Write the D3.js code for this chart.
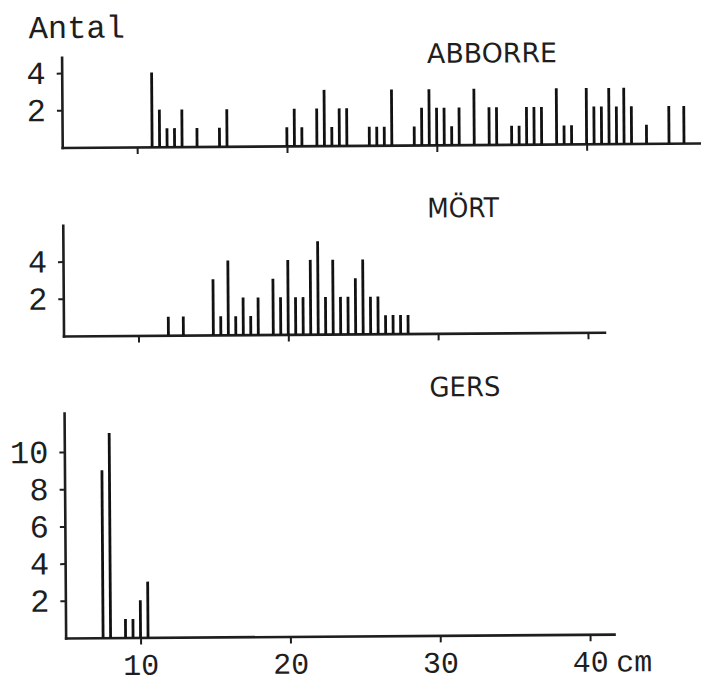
<!DOCTYPE html>
<html>
<head>
<meta charset="utf-8">
<script src="https://cdn.jsdelivr.net/npm/d3@7"></script>
<style>
body { margin: 0; background: #fff; }
</style>
</head>
<body>
<div id="chart"></div>
<script>
// length distributions (0.5 cm classes) for three species
//``````````````````````````````````````//

let abborreLen = [11, 11.5, 12, 12.5, 13, 14, 15.5, 16, 20, 20.5, 21, 22, 22.5, 23, 23.5, 24,
    25.5, 26, 26.5, 27, 28.5, 29, 29.5, 30, 30.5, 31, 31.5, 32.5, 33.5, 34, 35, 35.5, 36, 36.5, 37,
    38, 38.5, 39, 40, 40.5, 41, 41.5, 42, 42.5, 43, 44, 45.5, 46.5]
let abborreN = [4, 2, 1, 1, 2, 1, 1, 2, 1, 2, 1, 2, 3, 1, 2, 2,
    1, 1, 1, 3, 1, 2, 3, 2, 2, 1, 2, 3, 2, 2, 1, 1, 2, 2, 2,
    3, 1, 1, 3, 2, 2, 3, 2, 3, 2, 1, 2, 2]

let mortLen = [12, 13, 15, 15.5, 16, 16.5, 17, 17.5, 18, 19, 19.5, 20, 20.5, 21, 21.5, 22, 22.5,
    23, 23.5, 24, 24.5, 25, 25.5, 26, 26.5, 27, 27.5, 28]
let mortN = [1, 1, 3, 1, 4, 1, 2, 1, 2, 3, 2, 4, 2, 2, 4, 5, 2,
    4, 2, 2, 3, 4, 2, 2, 1, 1, 1, 1]

let gersLen = [7.5, 8, 9, 9.5, 10, 10.5]
let gersN = [9, 11, 1, 1, 2, 3]

let speciesNames = ['ABBORRE', 'MÖRT', 'GERS']
let xTicks = [10, 20, 30, 40]
let xTickLabels = ['10', '20', '30', '40']
let xUnit = 'cm'
let yTitle = 'Antal'
let abborreYTicks = [2, 4]
let mortYTicks = [2, 4]
let gersYTicks = [2, 4, 6, 8, 10]

let monoFont = '"Courier New", "Liberation Mono", monospace'
let sansFont = '"DejaVu Sans", sans-serif'
let ink = '#1e1e1e'
let monoSize = '32px'
let xLabelSize = '30px'

let svg = d3.select('#chart').append('svg')
    .attr('width', 701)
    .attr('height', 684)

// the scan is a little tilted, so the whole drawing is too
let canvas = svg.append('g').attr('transform', 'rotate(-0.4, 350, 342)')

// shared length scale (cm)
let x = d3.scaleLinear().domain([10, 40]).range([138.5, 588])
let unitPx = 18.6

let panels = [
    {len: abborreLen, n: abborreN, yTicks: abborreYTicks, base: 145.5, yTop: 4.85, xEnd: 47.6, nameX: 429, nameY: 63.5, nameW: 130},
    {len: mortLen, n: mortN, yTicks: mortYTicks, base: 334, yTop: 5.95, xEnd: 41.1, nameX: 428, nameY: 218, nameW: 72},
    {len: gersLen, n: gersN, yTicks: gersYTicks, base: 636, yTop: 12.1, xEnd: 41.6, nameX: 429, nameY: 397, nameW: 71, labels: true}
]

let styleAxis = (sel, size) => {
    sel.attr('font-family', null).attr('font-size', null)
    sel.select('.domain')
        .attr('stroke', ink)
        .attr('stroke-width', 2.6)
        .attr('stroke-linecap', 'square')
    sel.selectAll('.tick line')
        .attr('stroke', ink)
        .attr('stroke-width', 2)
    sel.selectAll('.tick text')
        .attr('fill', ink)
        .style('font-family', monoFont)
        .style('font-size', size)
}

let drawPanel = (p, k) => {
    let xs = x.copy().domain([5, p.xEnd]).range([x(5), x(p.xEnd)])
    let y = d3.scaleLinear().domain([0, p.yTop]).range([p.base, p.base - p.yTop * unitPx])
    let panel = canvas.append('g')

    // species name
    panel.append('text')
        .attr('x', p.nameX)
        .attr('y', p.nameY)
        .attr('textLength', p.nameW)
        .attr('lengthAdjust', 'spacingAndGlyphs')
        .attr('fill', ink)
        .style('font-family', sansFont)
        .style('font-size', '27px')
        .text(speciesNames[k])

    // x axis, ticks point down
    let xAxis = d3.axisBottom(xs)
        .tickValues(xTicks)
        .tickSize(7)
        .tickSizeOuter(0)
        .tickPadding(9)
        .tickFormat((d, i) => p.labels ? xTickLabels[i] : '')
    panel.append('g')
        .attr('transform', `translate(0,${p.base})`)
        .call(xAxis)
        .call(styleAxis, xLabelSize)

    // y axis, small ticks to the left
    let yAxis = d3.axisLeft(y)
        .tickValues(p.yTicks)
        .tickSize(5)
        .tickSizeOuter(0)
        .tickPadding(11)
        .tickFormat(d3.format('d'))
    panel.append('g')
        .attr('transform', `translate(${xs(5)},0)`)
        .call(yAxis)
        .call(styleAxis, monoSize)

    // one spike per length class
    panel.selectAll('line.bar')
        .data(p.len)
        .enter()
        .append('line')
        .attr('class', 'bar')
        .attr('x1', d => xs(d))
        .attr('x2', d => xs(d))
        .attr('y1', y(0))
        .attr('y2', (d, i) => y(p.n[i]))
        .attr('stroke', '#111')
        .attr('stroke-width', 2.8)

    if (p.labels) {
        panel.append('text')
            .attr('x', xs(40) + 26)
            .attr('y', p.base + 7 + 9)
            .attr('dy', '0.71em')
            .attr('fill', ink)
            .style('font-family', monoFont)
            .style('font-size', xLabelSize)
            .text(xUnit)
    }
}

panels.forEach(drawPanel)

// y title
canvas.append('text')
    .attr('x', 31)
    .attr('y', 36)
    .attr('fill', ink)
    .style('font-family', monoFont)
    .style('font-size', monoSize)
    .text(yTitle)
</script>
</body>
</html>
